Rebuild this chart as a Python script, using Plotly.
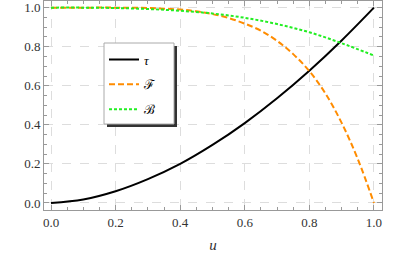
import plotly.graph_objects as go

u_tau = [0.0, 0.1, 0.2, 0.3, 0.4, 0.5, 0.6, 0.7, 0.8, 0.9, 1.0]
tau = [0.0, 0.018, 0.06, 0.122, 0.2, 0.297, 0.409, 0.536, 0.677, 0.832, 1.0]

u_F = [0.0, 0.1, 0.2, 0.3, 0.4, 0.45, 0.5, 0.55, 0.6, 0.65, 0.7, 0.75, 0.8, 0.85, 0.9, 0.95, 1.0]
F = [1.0, 1.0, 1.0, 0.998, 0.99, 0.981, 0.967, 0.947, 0.918, 0.882, 0.83, 0.762, 0.675, 0.56, 0.41, 0.225, 0.0]

u_B = [0.0, 0.1, 0.2, 0.3, 0.4, 0.5, 0.6, 0.7, 0.8, 0.9, 1.0]
B = [1.0, 1.0, 0.998, 0.993, 0.984, 0.97, 0.948, 0.916, 0.874, 0.818, 0.755]

names = ["<i>τ</i>", "ℱ", "ℬ"]
x_ticks = [0.0, 0.2, 0.4, 0.6, 0.8, 1.0]
y_ticks = [0.0, 0.2, 0.4, 0.6, 0.8, 1.0]

fig = go.Figure()
fig.add_trace(go.Scatter(x=u_tau, y=tau, mode="lines", name=names[0], legendgroup="a",
                         line=dict(color="black", width=2, shape="spline")))
fig.add_trace(go.Scatter(x=u_F, y=F, mode="lines", name=names[1], legendgroup="b",
                         line=dict(color="#FF8C00", width=2, dash="6px,3px", shape="spline")))
fig.add_trace(go.Scatter(x=u_B, y=B, mode="lines", name=names[2], legendgroup="c",
                         line=dict(color="#22EE22", width=2, dash="3px,2px", shape="spline")))

W, H = 407, 253
ml, mr, mt, mb = 44, 25, 1, 43
pw, ph = W - ml - mr, H - mt - mb

axis_common = dict(
    showline=True, linecolor="#999999", linewidth=1, mirror="ticks",
    ticks="inside", ticklen=5, tickcolor="#999999", tickwidth=1,
    showgrid=True, gridcolor="#dddddd", griddash="dash", gridwidth=1,
    zeroline=False, tickformat=".1f", automargin=False,
    tickfont=dict(family="Liberation Serif", size=13, color="#333333"),
    minor=dict(ticks="inside", ticklen=3, tickcolor="#999999", dtick=0.05, showgrid=False),
)

fig.update_xaxes(range=[-0.0217, 1.025], tickvals=x_ticks, **axis_common,
                 title=dict(text="<i>u</i>", font=dict(family="Liberation Serif", size=15, color="#333333"),
                            standoff=14))
fig.update_yaxes(range=[-0.036, 1.034], tickvals=y_ticks, **axis_common)

def px2x(p):
    return (p - ml) / pw
def px2y(p):
    return (H - mb - p) / ph

# legend frame in pixels (from reference)
bx0, by0, bx1, by1 = 104, 43, 174, 124

fig.update_layout(
    width=W, height=H,
    margin=dict(l=ml, r=mr, t=mt, b=mb, autoexpand=False),
    plot_bgcolor="white", paper_bgcolor="white",
    showlegend=True,
    legend=dict(x=px2x(104), y=px2y(44.5), xanchor="left", yanchor="top",
                bgcolor="rgba(0,0,0,0)", borderwidth=0,
                font=dict(family="Liberation Serif", size=13, color="black"),
                tracegroupgap=5, traceorder="grouped", itemwidth=30),
)

# legend drop shadow and frame
fig.add_shape(type="rect", xref="paper", yref="paper",
              x0=px2x(bx0 + 3), x1=px2x(bx1 + 3), y0=px2y(by1 + 3), y1=px2y(by0 + 3),
              fillcolor="#333333", line=dict(width=0), layer="above")
fig.add_shape(type="rect", xref="paper", yref="paper",
              x0=px2x(bx0), x1=px2x(bx1), y0=px2y(by1), y1=px2y(by0),
              fillcolor="white", line=dict(width=1, color="#aaaaaa"), layer="above")

fig.write_html("out.html", config={"displayModeBar": False})
with open("out.html", "r", encoding="utf-8") as f:
    html = f.read()
html = html.replace("<head>", "<head><style>html,body{margin:0;padding:0;}</style>", 1)
with open("out.html", "w", encoding="utf-8") as f:
    f.write(html)
